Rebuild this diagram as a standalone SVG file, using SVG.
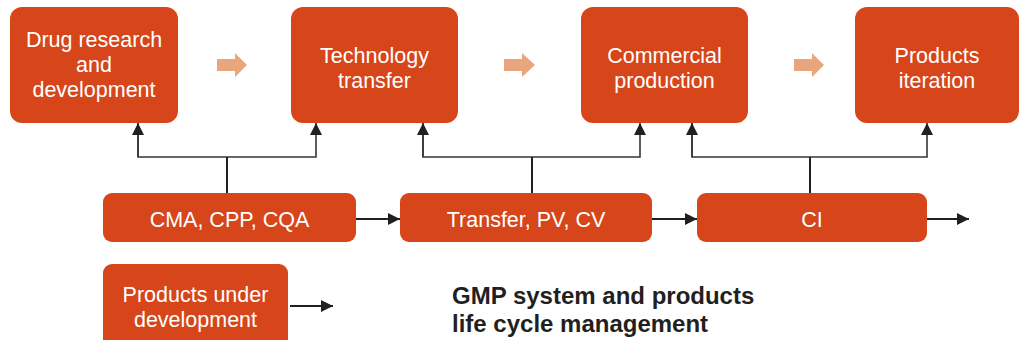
<svg xmlns="http://www.w3.org/2000/svg" width="1019" height="340" viewBox="0 0 1019 340">
<defs>
<style>
.box{fill:#d6461a;}
.lbl{font-family:"Liberation Sans",Arial,sans-serif;font-size:21.5px;fill:#ffffff;text-anchor:middle;}
.ttl{font-family:"Liberation Sans",Arial,sans-serif;font-size:24px;font-weight:bold;fill:#231f20;}
.ln{fill:none;stroke:#3a3535;stroke-width:1.6;}
.stem{fill:none;stroke:#231f20;stroke-width:2;}
.blk{fill:#e9a57c;}
</style>
<marker id="ah" viewBox="0 0 10 10" refX="10" refY="5" markerWidth="12" markerHeight="12" markerUnits="userSpaceOnUse" orient="auto">
<path d="M0,0 L10,5 L0,10 Z" fill="#231f20"/>
</marker>
</defs>
<rect width="1019" height="340" fill="#ffffff"/>
<g id="n-drug"><rect class="box" x="10" y="7" width="168" height="116" rx="12"/>
<text class="lbl" x="94" y="47">Drug research</text><text class="lbl" x="94" y="72">and</text><text class="lbl" x="94" y="97">development</text></g>
<g id="n-tech"><rect class="box" x="291" y="7" width="167" height="116" rx="12"/>
<text class="lbl" x="374.5" y="63">Technology</text><text class="lbl" x="374.5" y="88">transfer</text></g>
<g id="n-comm"><rect class="box" x="581" y="7" width="167" height="116" rx="12"/>
<text class="lbl" x="664.5" y="63">Commercial</text><text class="lbl" x="664.5" y="88">production</text></g>
<g id="n-iter"><rect class="box" x="855" y="7" width="164" height="116" rx="12"/>
<text class="lbl" x="937" y="63">Products</text><text class="lbl" x="937" y="88">iteration</text></g>
<g id="n-cma"><rect class="box" x="103" y="193" width="253" height="49" rx="9"/>
<text class="lbl" x="229.5" y="227">CMA, CPP, CQA</text></g>
<g id="n-transfer"><rect class="box" x="400" y="193" width="252" height="49" rx="9"/>
<text class="lbl" x="526" y="227">Transfer, PV, CV</text></g>
<g id="n-ci"><rect class="box" x="697" y="193" width="230" height="49" rx="9"/>
<text class="lbl" x="812" y="227">CI</text></g>
<g id="n-pud"><rect class="box" x="103" y="264" width="185" height="90" rx="9"/>
<text class="lbl" x="195.5" y="302">Products under</text><text class="lbl" x="195.5" y="327">development</text></g>
<g id="title"><text class="ttl" x="452" y="304">GMP system and products</text><text class="ttl" x="452" y="332">life cycle management</text></g>
<g id="connectors">
<path class="blk" d="M217,59 H235 V53 L247,65 L235,77 V71 H217 Z"/>
<path class="blk" d="M504,59 H522 V53 L535,65 L522,77 V71 H504 Z"/>
<path class="blk" d="M794,59 H812 V53 L824,65 L812,77 V71 H794 Z"/>
<path class="ln" d="M138,123 V157 H316 V123" marker-end="url(#ah)"/>
<path class="ln" d="M138,157 V123" marker-end="url(#ah)"/>
<path class="stem" d="M227,157 V193"/>
<path class="ln" d="M423,123 V157 H640 V123" marker-end="url(#ah)"/>
<path class="ln" d="M423,157 V123" marker-end="url(#ah)"/>
<path class="stem" d="M532,157 V193"/>
<path class="ln" d="M692,123 V157 H927 V123" marker-end="url(#ah)"/>
<path class="ln" d="M692,157 V123" marker-end="url(#ah)"/>
<path class="stem" d="M810,157 V193"/>
<path class="stem" d="M356,219 H400" marker-end="url(#ah)"/>
<path class="stem" d="M652,219 H697" marker-end="url(#ah)"/>
<path class="stem" d="M927,219 H969" marker-end="url(#ah)"/>
<path class="stem" d="M290,306 H333" marker-end="url(#ah)"/>
</g>
</svg>
